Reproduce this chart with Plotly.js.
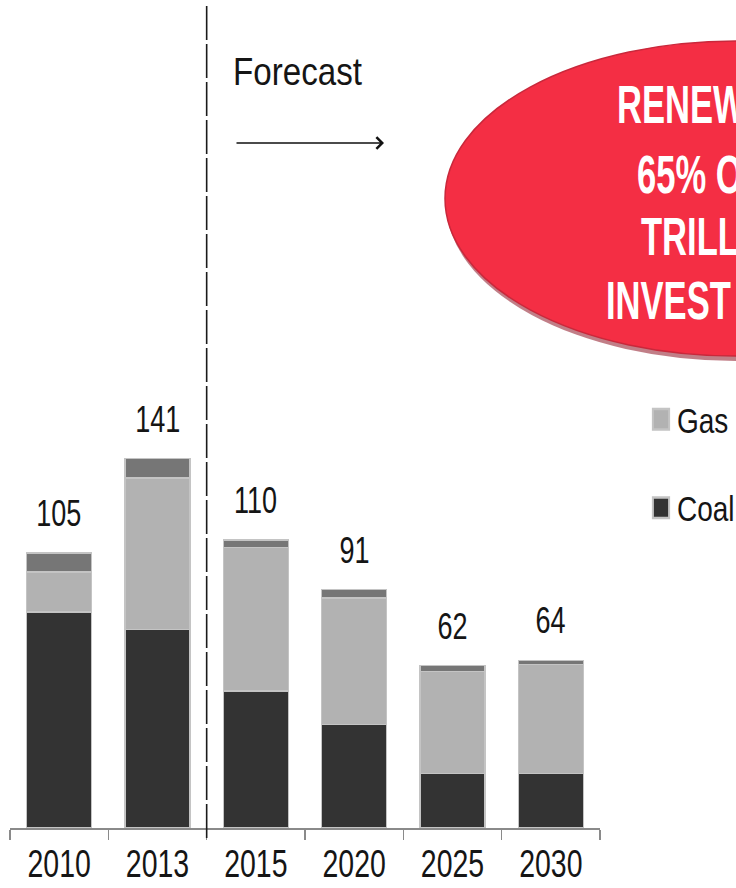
<!DOCTYPE html>
<html>
<head>
<meta charset="utf-8">
<script src="https://cdn.plot.ly/plotly-3.0.1.min.js"></script>
<style>
  html, body { margin: 0; padding: 0; background: #fff; }
  #chart { width: 736px; height: 888px; }
</style>
</head>
<body>
<div id="chart"></div>
<script>
// ---- data ----
const years = ['2010', '2013', '2015', '2020', '2025', '2030'];
const coal  = [82.4, 75.7, 52.3, 39.5, 20.8, 20.8];
const gas   = [15.3, 57.9, 54.7, 48.2, 39.0, 41.7];
const other = [7.3, 7.4, 3.0, 3.3, 2.2, 1.5];
const totals = [105, 141, 110, 91, 62, 64];
const forecastLabel = 'Forecast';
const calloutLines = ['RENEW', '65% O', 'TRILL', 'INVEST'];

// ---- layout geometry ----
const W = 736, H = 888;
const M = { l: 10, r: 136, t: 0, b: 60, autoexpand: false };
const PW = W - M.l - M.r, PH = H - M.t - M.b;
const px = x => (x - M.l) / PW;          // pixel -> paper x
const py = y => (H - M.b - y) / PH;      // pixel -> paper y

const font = "'Liberation Sans', Arial, sans-serif";
const barLine = { color: '#c4c4c4', width: 1.5 };

// horizontal condensing of the (narrow) fonts used in the reference
const SX_NUM = 0.73, SX_FORECAST = 0.85, SX_CALLOUT = 0.64, SX_LEGEND = 0.8;

const traces = [
  { type: 'bar', name: 'Coal', x: years, y: coal, legendgroup: 'coal', legendrank: 2,
    marker: { color: '#333333', line: barLine }, width: 0.66, hoverinfo: 'skip' },
  { type: 'bar', name: 'Gas', x: years, y: gas, legendgroup: 'gas', legendrank: 1,
    marker: { color: '#b2b2b2', line: barLine }, width: 0.66, hoverinfo: 'skip' },
  { type: 'bar', name: 'Other', x: years, y: other, legendgroup: 'other', showlegend: false,
    marker: { color: '#767676', line: barLine }, width: 0.66, hoverinfo: 'skip' }
];

const annotations = [], annSx = [];
years.forEach((yr, i) => {
  annotations.push({
    x: i, y: totals[i], xref: 'x', yref: 'y', text: String(totals[i]),
    showarrow: false, yanchor: 'bottom', yshift: 17,
    font: { family: font, size: 37, color: '#151515' }
  });
  annSx.push(SX_NUM);
});

annotations.push({
  x: px(231), y: py(71), xref: 'paper', yref: 'paper', text: forecastLabel,
  showarrow: false, xanchor: 'left', yanchor: 'middle', align: 'left',
  font: { family: font, size: 39, color: '#151515' }
});
annSx.push(SX_FORECAST);
annotations.push({
  x: px(384), y: py(143), xref: 'paper', yref: 'paper', text: '',
  showarrow: true, ax: -149, ay: 0, arrowhead: 4, arrowsize: 1.6, arrowwidth: 1.4,
  arrowcolor: '#111'
});
annSx.push(1);
const lineY = [104, 174, 236, 300];
const lineX = [615, 635, 639, 604];
calloutLines.forEach((t, i) => {
  annotations.push({
    x: px(lineX[i]), y: py(lineY[i]), xref: 'paper', yref: 'paper', text: '<b>' + t + '</b>',
    showarrow: false, xanchor: 'left', yanchor: 'middle', align: 'left',
    font: { family: font, size: 54, color: '#ffffff' }
  });
  annSx.push(SX_CALLOUT);
});

const shapes = [
  { type: 'circle', xref: 'paper', yref: 'paper', layer: 'above',
    x0: px(446), x1: px(1028), y0: py(361), y1: py(45),
    fillcolor: '#8e1424', opacity: 0.55, line: { width: 0 } },
  { type: 'circle', xref: 'paper', yref: 'paper', layer: 'above',
    x0: px(445), x1: px(1027), y0: py(356), y1: py(41),
    fillcolor: '#f42e44', line: { color: '#c9283b', width: 1.5 } },
  { type: 'line', xref: 'x', yref: 'paper', x0: 1.5, x1: 1.5, y0: py(838), y1: py(5),
    line: { color: '#1a1a1a', width: 1.6, dash: '34px,4px' } }
];

const layout = {
  width: W, height: H, margin: M,
  paper_bgcolor: '#ffffff', plot_bgcolor: '#ffffff',
  barmode: 'stack', bargap: 0.34,
  showlegend: true,
  legend: {
    x: px(641), y: py(390), xanchor: 'left', yanchor: 'top',
    traceorder: 'grouped', tracegroupgap: 40,
    font: { family: font, size: 35, color: '#151515' },
    bgcolor: 'rgba(0,0,0,0)'
  },
  xaxis: {
    type: 'category', range: [-0.5, 5.5], showgrid: false, zeroline: false,
    showline: true, linecolor: '#8a8a8a', linewidth: 1.5,
    ticks: 'outside', tickson: 'boundaries', ticklen: 10, tickcolor: '#8a8a8a', tickwidth: 1.5,
    ticklabelstandoff: 1,
    tickfont: { family: font, size: 39, color: '#151515' }, fixedrange: true
  },
  yaxis: { range: [0, PH / 2.62], visible: false, fixedrange: true },
  annotations: annotations,
  shapes: shapes
};

// condense a text element horizontally around its anchor point
function squeeze(el, sx, dx) {
  const x = parseFloat(el.getAttribute('x')) || 0;
  const y = parseFloat(el.getAttribute('y')) || 0;
  const t = el.getAttribute('transform') || '';
  el.setAttribute('transform',
    t + ' translate(' + (x + (dx || 0)) + ',' + y + ') scale(' + sx + ',1) translate(' + (-x) + ',' + (-y) + ')');
}

Plotly.newPlot('chart', traces, layout, { displayModeBar: false, staticPlot: true }).then(gd => {
  gd.querySelectorAll('.xtick text').forEach(el => squeeze(el, SX_NUM));
  gd.querySelectorAll('.annotation').forEach(g => {
    const idx = +g.getAttribute('data-index');
    const sx = annSx[idx];
    if (sx !== 1) g.querySelectorAll('text.annotation-text').forEach(el => squeeze(el, sx));
  });
  gd.querySelectorAll('.legendtext').forEach(el => squeeze(el, SX_LEGEND, -4));
  gd.querySelectorAll('.legendpoints path').forEach(p => {
    const t = p.getAttribute('transform') || '';
    p.setAttribute('transform', t + ' scale(1.35,1.7)');
  });
});
</script>
</body>
</html>
